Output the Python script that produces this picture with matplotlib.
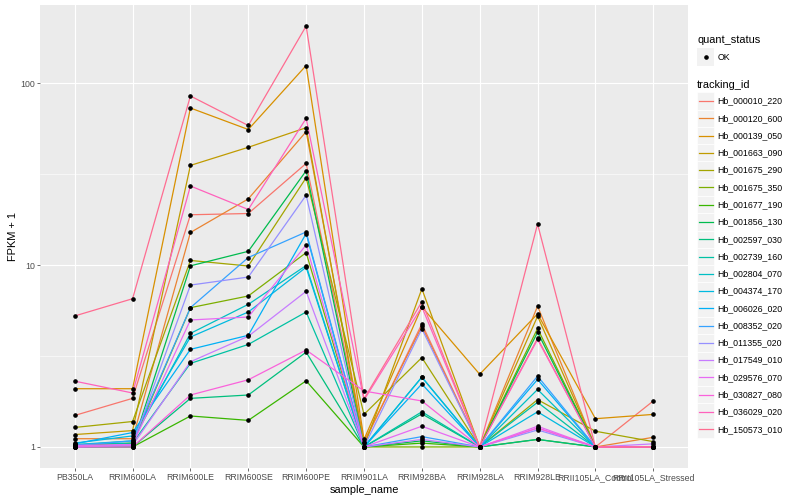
import numpy as np
import matplotlib
matplotlib.use("Agg")
from matplotlib import pyplot as plt
from matplotlib.ticker import FixedLocator, NullFormatter
from matplotlib.patches import Rectangle

plt.rcParams['font.family'] = ['Liberation Sans', 'DejaVu Sans']

# samples on the x axis
samples = ['PB350LA', 'RRIM600LA', 'RRIM600LE', 'RRIM600SE', 'RRIM600PE',
           'RRIM901LA', 'RRIM928BA', 'RRIM928LA', 'RRIM928LE',
           'RRII105LA_Control', 'RRII105LA_Stressed']

tracking_ids = ['Hb_000010_220', 'Hb_000120_600', 'Hb_000139_050', 'Hb_001663_090',
                'Hb_001675_290', 'Hb_001675_350', 'Hb_001677_190', 'Hb_001856_130',
                'Hb_002597_030', 'Hb_002739_160', 'Hb_002804_070', 'Hb_004374_170',
                'Hb_006026_020', 'Hb_008352_020', 'Hb_011355_020', 'Hb_017549_010',
                'Hb_029576_070', 'Hb_030827_080', 'Hb_036029_020', 'Hb_150573_010']

# ggplot hue palette, 20 colours
colors = ['#F8766D', '#EA8331', '#D89000', '#C09B00', '#A3A500', '#7CAE00', '#39B600',
          '#00BB4E', '#00BF7D', '#00C1A3', '#00BFC4', '#00BAE0', '#00B0F6', '#35A2FF',
          '#9590FF', '#C77CFF', '#E76BF3', '#FA62DB', '#FF62BC', '#FF6C91']

# FPKM + 1 per gene (one list per tracking_id)
fpkm = [
    [1.49, 1.85, 18.9, 19.2, 36.2, 1.05, 4.75, 1.0, 3.95, 1.0, 1.79],
    [1.11, 1.11, 15.1, 23.1, 54.1, 1.07, 4.6, 1.0, 5.94, 1.0, 1.13],
    [2.09, 2.09, 73.0, 55.6, 125.0, 1.1, 5.89, 2.51, 5.39, 1.43, 1.51],
    [1.17, 1.23, 35.3, 44.4, 56.9, 1.0, 7.4, 1.0, 5.23, 1.0, 1.0],
    [1.28, 1.38, 10.6, 9.88, 30.2, 1.51, 3.1, 1.0, 1.82, 1.22, 1.07],
    [1.02, 1.05, 5.83, 6.76, 11.7, 1.0, 1.0, 1.0, 4.48, 1.0, 1.0],
    [1.0, 1.0, 1.48, 1.40, 2.31, 1.0, 1.05, 1.0, 1.10, 1.0, 1.0],
    [1.0, 1.02, 9.9, 11.9, 33.0, 1.0, 1.08, 1.0, 4.27, 1.0, 1.0],
    [1.0, 1.0, 1.85, 1.93, 3.32, 1.0, 1.52, 1.0, 1.10, 1.0, 1.0],
    [1.03, 1.05, 2.88, 3.66, 5.52, 1.0, 1.56, 1.0, 1.76, 1.0, 1.0],
    [1.03, 1.08, 4.21, 6.08, 9.94, 1.0, 2.42, 1.0, 2.07, 1.0, 1.0],
    [1.05, 1.15, 4.02, 5.52, 9.72, 1.0, 2.42, 1.0, 1.56, 1.0, 1.0],
    [1.04, 1.20, 3.44, 4.11, 14.9, 1.0, 2.22, 1.0, 2.35, 1.0, 1.0],
    [1.02, 1.08, 5.83, 11.0, 15.2, 1.0, 1.14, 1.0, 2.45, 1.0, 1.0],
    [1.0, 1.03, 7.76, 8.59, 24.2, 1.0, 4.46, 1.0, 1.24, 1.0, 1.0],
    [1.0, 1.02, 2.94, 4.06, 7.17, 1.0, 1.10, 1.0, 1.27, 1.0, 1.04],
    [1.02, 1.03, 4.99, 5.18, 12.9, 1.0, 1.30, 1.0, 1.30, 1.0, 1.0],
    [1.0, 1.0, 1.93, 2.34, 3.41, 2.03, 1.79, 1.0, 1.27, 1.0, 1.0],
    [2.30, 1.98, 27.2, 20.2, 64.0, 1.81, 5.89, 1.0, 3.90, 1.0, 1.0],
    [5.25, 6.53, 85.0, 58.5, 206.0, 1.84, 6.28, 1.0, 16.8, 1.0, 1.0],
]

fig = plt.figure(figsize=(8, 5), dpi=100)
ax = fig.add_axes([40/800, 32/500, 648/800, 463/500])
ax.set_facecolor('#EBEBEB')
for s in ax.spines.values():
    s.set_visible(False)

x = np.arange(len(samples))
for vals, c in zip(fpkm, colors):
    ax.plot(x, vals, color=c, lw=0.9, zorder=2)
for vals in fpkm:
    ax.plot(x, vals, 'o', color='black', ms=2.3, zorder=3)

ax.set_yscale('log')
top = np.log10(max(max(v) for v in fpkm))
ax.set_ylim(10**(-0.05*top), 10**(1.05*top))
ax.set_xlim(-0.6, len(samples) - 0.4)
ax.yaxis.set_major_locator(FixedLocator([1, 10, 100]))
ax.set_yticklabels(['1', '10', '100'])
ax.yaxis.set_minor_locator(FixedLocator([10**0.5, 10**1.5]))
ax.yaxis.set_minor_formatter(NullFormatter())
ax.set_xticks(x)
ax.set_xticklabels(samples)
ax.grid(which='major', color='white', lw=0.8)
ax.grid(which='minor', axis='y', color='white', lw=0.4)
ax.set_axisbelow(True)
ax.tick_params(which='major', length=2, width=0.5, color='#333333',
               labelcolor='#4D4D4D', labelsize=6.3, pad=1.5)
ax.tick_params(which='minor', length=0)
ax.set_xlabel('sample_name', fontsize=7.9, labelpad=2)
ax.set_ylabel('FPKM + 1', fontsize=7.9, labelpad=2)

# legend drawn in pixel coordinates
lax = fig.add_axes([0, 0, 1, 1])
lax.set_xlim(0, 800)
lax.set_ylim(500, 0)
lax.axis('off')
kx, kw = 697, 17.28
lax.text(kx, 40, 'quant_status', fontsize=7.9, va='center')
lax.add_patch(Rectangle((kx, 57 - kw/2), kw, kw, facecolor='#F2F2F2', edgecolor='none'))
lax.plot([kx + kw/2], [57], 'o', color='black', ms=2.3)
lax.text(kx + kw + 3, 57, 'OK', fontsize=6.3, va='center')
lax.text(kx, 85, 'tracking_id', fontsize=7.9, va='center')
for i, (tid, c) in enumerate(zip(tracking_ids, colors)):
    yc = 101 + i * 17.28
    lax.add_patch(Rectangle((kx, yc - kw/2), kw, kw, facecolor='#F2F2F2',
                            edgecolor='white', lw=0.5))
    lax.plot([kx + 1.5, kx + kw - 1.5], [yc, yc], color=c, lw=0.9)
    lax.text(kx + kw + 3, yc, tid, fontsize=6.3, va='center')

fig.savefig('out.png', dpi=100)
